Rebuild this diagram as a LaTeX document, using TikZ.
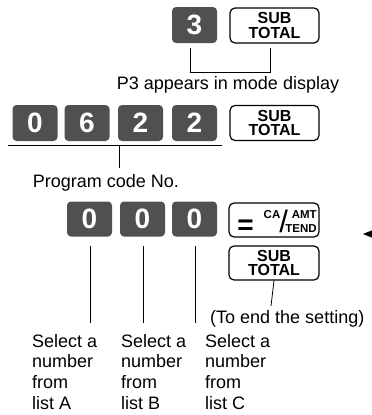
\documentclass[tikz,border=0pt]{standalone}
\usepackage{fontspec}
\setmainfont{Liberation Sans}
\usetikzlibrary{arrows.meta}
\definecolor{keygray}{HTML}{505050}
\begin{document}
\begin{tikzpicture}[x=1pt,y=-1pt,
  numkey/.style={fill=keygray, rounded corners=4pt, minimum width=45pt, minimum height=36pt, inner sep=0pt, text=white, font=\fontsize{28}{30}\selectfont\bfseries},
  fnkey/.style={draw=black, line width=1.2pt, rounded corners=5pt, minimum width=89pt, minimum height=35pt, inner sep=0pt, align=center, font=\fontsize{16}{14.5}\selectfont\bfseries},
  lbl/.style={inner sep=0pt, font=\fontsize{18}{20.7}\selectfont},
  conn/.style={line width=0.8pt}]
\useasboundingbox (0,0) rectangle (372,415);
% row 1
\node[numkey] (k3) at (194.5,25) {3};
\node[fnkey] (st1) at (274.5,25.5) {SUB\\TOTAL};
\coordinate (p3a) at (190,48);
\coordinate (p3b) at (270,48);
\draw[conn] (p3a) -- ++(0,24) -| (p3b);
\node[lbl, anchor=base] (p3txt) at (228,89) {P3 appears in mode display};
% row 2
\node[numkey] (c0) at (35,123) {0};
\node[numkey] (c6) at (87,123) {6};
\node[numkey] (c2) at (140.5,123) {2};
\node[numkey] (c2b) at (194.5,123) {2};
\node[fnkey] (st2) at (274.5,123) {SUB\\TOTAL};
\coordinate (ulA) at (8,145);
\coordinate (ulB) at (222,145);
\coordinate (ulM) at (119,145);
\coordinate (ulE) at (119,168);
\draw[conn] (ulA) -- (ulB);
\draw[conn] (ulM) -- (ulE);
\node[lbl, anchor=base] (pctxt) at (106,187) {Program code No.};
% row 3
\node[numkey, minimum height=35pt] (d1) at (89.5,219) {0};
\node[numkey, minimum height=35pt] (d2) at (142.5,219) {0};
\node[numkey, minimum height=35pt] (d3) at (194.5,219) {0};
\node[fnkey, minimum width=90pt, minimum height=34pt] (ca) at (274,220) {};
\node[inner sep=0pt, font=\fontsize{28}{28}\selectfont\bfseries] (eq) at (245.5,227.5) {=};
\node[inner sep=0pt, anchor=base west, font=\fontsize{11.5}{14}\selectfont\bfseries] (calbl) at (263.5,232.6)
  {\raisebox{14pt}{CA}\kern-1pt{\fontsize{31}{31}\selectfont\mdseries/}\kern-2.5pt\begin{tabular}[b]{@{}r@{}}AMT\\TEND\end{tabular}};
\node[fnkey, minimum width=90pt, minimum height=34pt] (st3) at (274,263) {SUB\\TOTAL};
\coordinate (l1a) at (90,246);  \coordinate (l1b) at (90,323);
\coordinate (l2a) at (143,246); \coordinate (l2b) at (143,323);
\coordinate (l3a) at (195,246); \coordinate (l3b) at (195,323);
\draw[conn] (l1a) -- (l1b);
\draw[conn] (l2a) -- (l2b);
\draw[conn] (l3a) -- (l3b);
\coordinate (endb) at (271,306);
\draw[conn] (st3.south) -- (endb);
\node[lbl, anchor=base west] (endtxt) at (210,323) {(To end the setting)};
\node[lbl, anchor=north west, align=left] (selA) at (32,334) {Select a\\number\\from\\list A};
\node[lbl, anchor=north west, align=left] (selB) at (121,334) {Select a\\number\\from\\list B};
\node[lbl, anchor=north west, align=left] (selC) at (205,334) {Select a\\number\\from\\list C};
% arrow at right edge
\coordinate (arrS) at (372,234);
\coordinate (arrT) at (363,234);
\draw[-{Triangle[length=9pt,width=7pt]}] (arrS) -- (arrT);
\end{tikzpicture}
\end{document}
